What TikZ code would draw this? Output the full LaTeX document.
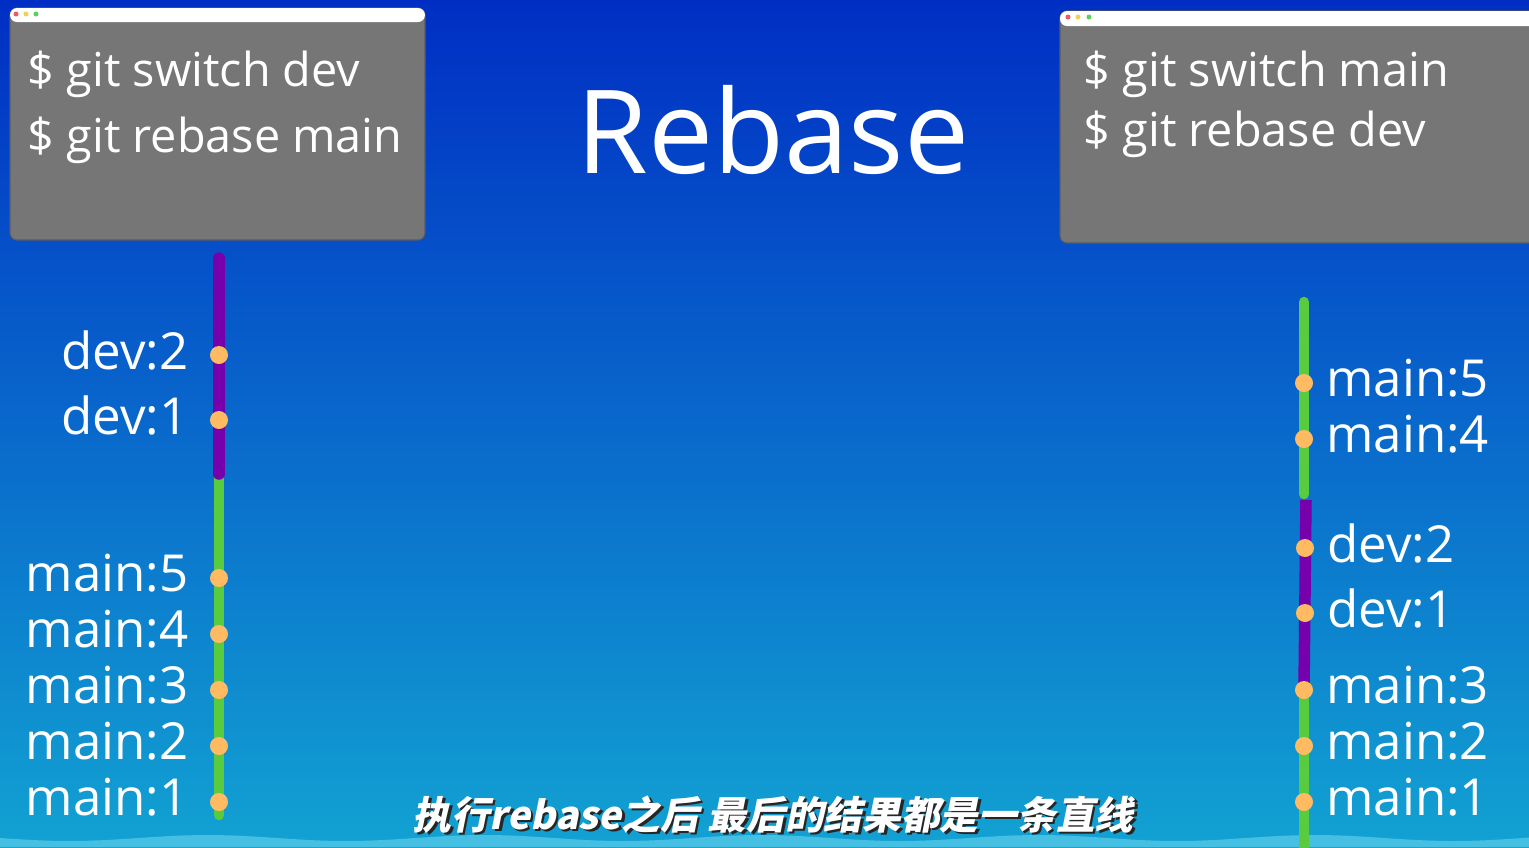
\documentclass[tikz,border=0pt]{standalone}
\usepackage{fontspec}
\setmainfont{Open Sans}
\newfontfamily\cjkfont[FakeSlant=0.2]{Noto Sans CJK SC}
\usetikzlibrary{positioning}

\definecolor{bgtop}{RGB}{0,46,196}
\definecolor{bgmid}{RGB}{0,112,200}
\definecolor{bgbottom}{RGB}{18,162,210}
\definecolor{wavecol}{RGB}{70,192,226}
\definecolor{wingray}{RGB}{118,118,118}
\definecolor{winedge}{RGB}{90,90,100}
\definecolor{maingreen}{RGB}{88,204,62}
\definecolor{devpurple}{RGB}{118,0,172}
\definecolor{dotorange}{RGB}{255,186,98}
\definecolor{dotred}{RGB}{240,90,90}
\definecolor{dotyellow}{RGB}{240,210,80}
\definecolor{dotgreen}{RGB}{90,210,90}

\begin{document}
\begin{tikzpicture}[x=0.01cm,y=-0.01cm,
  commit/.style={circle,fill=dotorange,inner sep=0pt,minimum size=0.18cm},
  commitlabel/.style={text=white,inner sep=0pt,yshift=0.05cm,font=\fontsize{14.5pt}{17pt}\selectfont},
  mainline/.style={line width=0.105cm,draw=maingreen,line cap=round},
  devline/.style={line width=0.115cm,draw=devpurple,line cap=round},
  cmdtext/.style={text=white,anchor=base west,inner sep=0pt,font=\fontsize{13.3pt}{16pt}\selectfont},
  winbody/.style={fill=wingray,draw=winedge,line width=0.3pt,rounded corners=2pt},
  winbar/.style={fill=white,rounded corners=2pt}]
\useasboundingbox (0,0) rectangle (1529,847);
\clip (0,0) rectangle (1529,847);

% background
\shade[top color=bgtop,middle color=bgmid,bottom color=bgbottom] (0,0) rectangle (1529,847);
\fill[wavecol] (0,847) -- plot[domain=0:1529,samples=60,smooth] (\x,{838+3*sin(\x*1.3)}) -- (1529,847) -- cycle;

% terminal windows
\path[winbody] (10,8) rectangle (425,240);
\path[winbar] (10,8) rectangle (425,22);
\fill[dotred] (16,14) circle (2.5);
\fill[dotyellow] (26,14) circle (2.5);
\fill[dotgreen] (36,14) circle (2.5);
\node[cmdtext] (cmdL1) at (27,86) {\$ git switch dev};
\node[cmdtext] (cmdL2) at (27,152) {\$ git rebase main};

\path[winbody] (1060,11) rectangle (1540,243);
\path[winbar] (1060,11) rectangle (1540,26);
\fill[dotred] (1068,17) circle (2.5);
\fill[dotyellow] (1078,17) circle (2.5);
\fill[dotgreen] (1089,17) circle (2.5);
\node[cmdtext] (cmdR1) at (1083,86) {\$ git switch main};
\node[cmdtext] (cmdR2) at (1083,146) {\$ git rebase dev};

% title
\node[text=white,anchor=base,inner sep=0pt,font=\fontsize{33pt}{40pt}\selectfont] (title) at (773,173) {Rebase};

% left history: dev on top of main
\coordinate (ltop) at (219,258);
\coordinate (lmid) at (219,474);
\coordinate (lgreen) at (219,468);
\coordinate (lbot) at (219,815);
\draw[mainline] (lgreen) -- (lbot);
\draw[devline] (ltop) -- (lmid);
\foreach \y/\n/\t in {355/ld2/dev:2,420/ld1/dev:1,578/lm5/main:5,634/lm4/main:4,690/lm3/main:3,746/lm2/main:2,802/lm1/main:1}{
  \node[commit] (\n) at (219,\y) {};
  \node[commitlabel,left=0.2cm of \n] (\n-t) {\t};
}

% right history: main on top of dev
\coordinate (rtop) at (1304,302);
\coordinate (rgreen) at (1304,494);
\coordinate (rpurple) at (1306,500);
\coordinate (rjoin) at (1304,690);
\coordinate (rbot) at (1304,860);
\draw[devline,line cap=butt] (rpurple) -- (rjoin);
\draw[mainline] (rtop) -- (rgreen);
\draw[mainline,line cap=butt] (rjoin) -- (rbot);
\foreach \x/\y/\n/\t in {1304/383/rm5/main:5,1304/439/rm4/main:4,1305/548/rd2/dev:2,1305/613/rd1/dev:1,1304/690/rm3/main:3,1304/746/rm2/main:2,1304/802/rm1/main:1}{
  \node[commit] (\n) at (\x,\y) {};
  \node[commitlabel,right=0.12cm of \n] (\n-t) {\t};
}

% subtitle
\node[text=black!85,anchor=base,inner sep=0pt,font=\cjkfont\bfseries\fontsize{11pt}{14pt}\selectfont] (subshadow) at (775.5,831.5) {执行rebase之后 最后的结果都是一条直线};
\node[text=white,anchor=base,inner sep=0pt,font=\cjkfont\bfseries\fontsize{11pt}{14pt}\selectfont] (subtitle) at (773,829) {执行rebase之后 最后的结果都是一条直线};
\end{tikzpicture}
\end{document}
